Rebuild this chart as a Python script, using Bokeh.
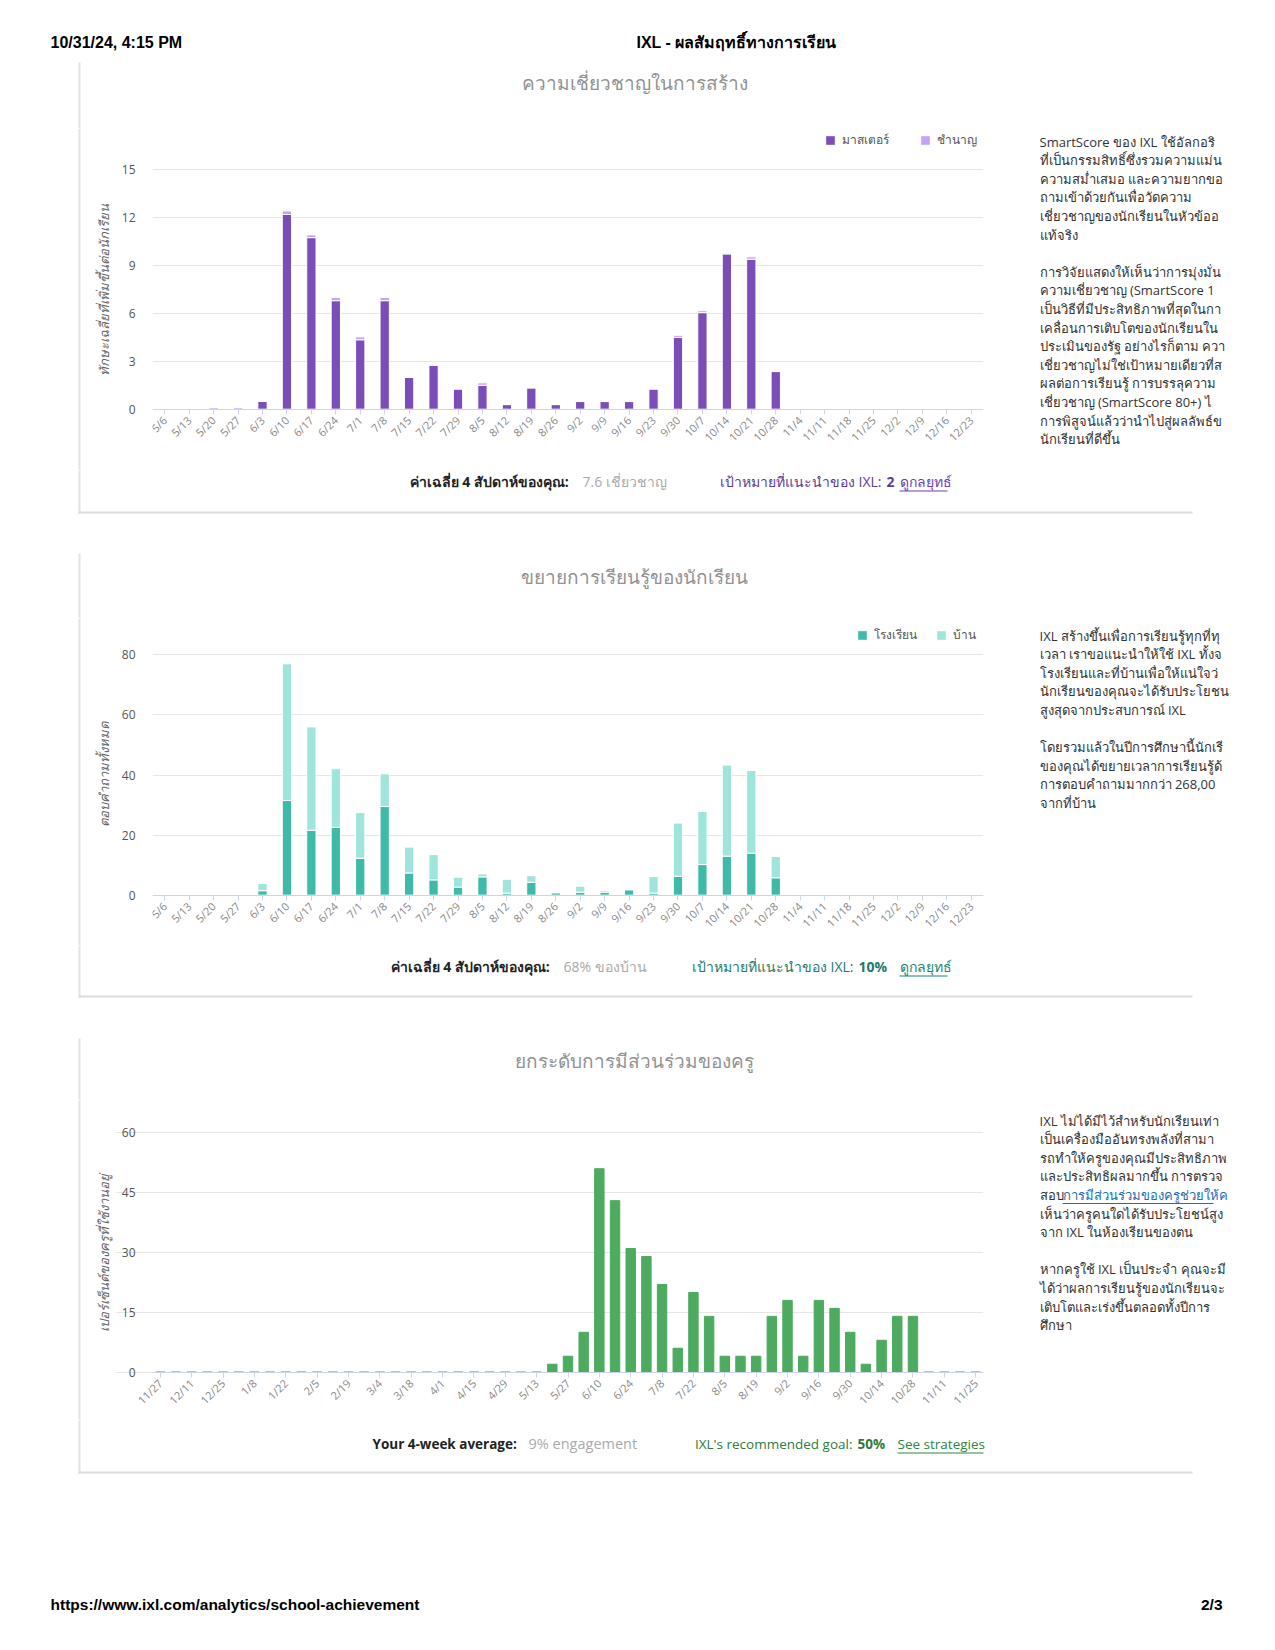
import math
from bokeh.plotting import figure
from bokeh.models import (ColumnDataSource, FactorRange, Range1d, FixedTicker, Label,
                          Legend, LegendItem)
from bokeh.layouts import column, row
from bokeh.embed import file_html
from bokeh.resources import INLINE

# ---------------- data ----------------
weeks = ["5/6", "5/13", "5/20", "5/27", "6/3", "6/10", "6/17", "6/24", "7/1", "7/8",
         "7/15", "7/22", "7/29", "8/5", "8/12", "8/19", "8/26", "9/2", "9/9", "9/16",
         "9/23", "9/30", "10/7", "10/14", "10/21", "10/28", "11/4", "11/11", "11/18",
         "11/25", "12/2", "12/9", "12/16", "12/23"]
mastered = [0, 0, 0, 0, 0.5, 12.2, 10.75, 6.8, 4.35, 6.8,
            2.0, 2.75, 1.27, 1.5, 0.29, 1.34, 0.29, 0.48, 0.48, 0.48,
            1.27, 4.5, 6.05, 9.73, 9.4, 2.36, 0, 0, 0,
            0, 0, 0, 0, 0]
proficient = [0, 0, 0.1, 0.1, 0, 0.22, 0.17, 0.2, 0.18, 0.2,
              0, 0.05, 0, 0.15, 0, 0, 0, 0, 0, 0,
              0, 0.13, 0.12, 0.05, 0.15, 0, 0, 0, 0,
              0, 0, 0, 0, 0]
school = [0, 0, 0, 0, 1.5, 31.5, 21.6, 22.6, 12.3, 29.5,
          7.4, 5.1, 2.7, 6.1, 0.7, 4.3, 0.8, 1.0, 1.0, 1.8,
          0.7, 6.3, 10.2, 13.0, 14.0, 5.8, 0, 0, 0,
          0, 0, 0, 0, 0]
home = [0, 0, 0, 0, 2.4, 45.5, 34.4, 19.5, 15.2, 10.9,
        8.6, 8.4, 3.3, 1.0, 4.6, 2.2, 0.1, 2.0, 0.5, 0.1,
        5.5, 17.7, 17.7, 30.3, 27.5, 7.1, 0, 0, 0,
        0, 0, 0, 0, 0]
weeks3 = ["11/27", "12/4", "12/11", "12/18", "12/25", "1/1", "1/8", "1/15", "1/22", "1/29",
          "2/5", "2/12", "2/19", "2/26", "3/4", "3/11", "3/18", "3/25", "4/1", "4/8",
          "4/15", "4/22", "4/29", "5/6", "5/13", "5/20", "5/27", "6/3", "6/10", "6/17",
          "6/24", "7/1", "7/8", "7/15", "7/22", "7/29", "8/5", "8/12", "8/19", "8/26",
          "9/2", "9/9", "9/16", "9/23", "9/30", "10/7", "10/14", "10/21", "10/28", "11/4",
          "11/11", "11/18", "11/25"]
teachers = [0, 0, 0, 0, 0, 0, 0, 0, 0, 0,
            0, 0, 0, 0, 0, 0, 0, 0, 0, 0,
            0, 0, 0, 0, 0, 2, 4, 10, 51, 43,
            31, 29, 22, 6, 20, 14, 4, 4, 4, 14,
            18, 4, 18, 16, 10, 2, 8, 14, 14, 0,
            0, 0, 0]

y1_ticks = [0, 3, 6, 9, 12, 15]
y2_ticks = [0, 20, 40, 60, 80]
y3_ticks = [0, 15, 30, 45, 60]

side1 = ["SmartScore ของ IXL ใช้อัลกอริ",
         "ที่เป็นกรรมสิทธิ์ซึ่งรวมความแม่น",
         "ความสม่ำเสมอ และความยากขอ",
         "ถามเข้าด้วยกันเพื่อวัดความ",
         "เชี่ยวชาญของนักเรียนในหัวข้ออ",
         "แท้จริง",
         "",
         "การวิจัยแสดงให้เห็นว่าการมุ่งมั่น",
         "ความเชี่ยวชาญ (SmartScore 1",
         "เป็นวิธีที่มีประสิทธิภาพที่สุดในกา",
         "เคลื่อนการเติบโตของนักเรียนใน",
         "ประเมินของรัฐ อย่างไรก็ตาม ควา",
         "เชี่ยวชาญไม่ใช่เป้าหมายเดียวที่ส",
         "ผลต่อการเรียนรู้ การบรรลุความ",
         "เชี่ยวชาญ (SmartScore 80+) ไ",
         "การพิสูจน์แล้วว่านำไปสู่ผลลัพธ์ข",
         "นักเรียนที่ดีขึ้น"]
side2 = ["IXL สร้างขึ้นเพื่อการเรียนรู้ทุกที่ทุ",
         "เวลา เราขอแนะนำให้ใช้ IXL ทั้งจ",
         "โรงเรียนและที่บ้านเพื่อให้แน่ใจว่",
         "นักเรียนของคุณจะได้รับประโยชน",
         "สูงสุดจากประสบการณ์ IXL",
         "",
         "โดยรวมแล้วในปีการศึกษานี้นักเรี",
         "ของคุณได้ขยายเวลาการเรียนรู้ด้",
         "การตอบคำถามมากกว่า 268,00",
         "จากที่บ้าน"]
side3 = ["IXL ไม่ได้มีไว้สำหรับนักเรียนเท่า",
         "เป็นเครื่องมืออันทรงพลังที่สามา",
         "รถทำให้ครูของคุณมีประสิทธิภาพ",
         "และประสิทธิผลมากขึ้น การตรวจ",
         "สอบ",
         "เห็นว่าครูคนใดได้รับประโยชน์สูง",
         "จาก IXL ในห้องเรียนของตน",
         "",
         "หากครูใช้ IXL เป็นประจำ คุณจะมี",
         "ได้ว่าผลการเรียนรู้ของนักเรียนจะ",
         "เติบโตและเร่งขึ้นตลอดทั้งปีการ",
         "ศึกษา"]
side3_link = "การมีส่วนร่วมของครูช่วยให้ค"

# ---------------- styles ----------------
FONT = "Open Sans"
HFONT = "Liberation Sans"
C_M, C_P = "#7b4db6", "#c5a3f3"
C_S, C_H = "#3dbaa8", "#a0e5dc"
C_G = "#4cab5f"
BORDER = "#e2e2e2"
TITLE_C = "#929292"

PX0, PX1 = 0, 1267          # page x extent of the layout
CX0, CX1 = 115, 990         # chart figure x extent
FRAME_L, FRAME_R = 152, 983  # chart plotting-area x extent


def text_fig(x0, x1, y0, y1):
    p = figure(width=int(x1 - x0), height=int(y1 - y0),
               x_range=Range1d(x0, x1), y_range=Range1d(y1, y0),
               output_backend="svg", toolbar_location=None,
               x_axis_location=None, y_axis_location=None,
               min_border=0, min_border_left=0, min_border_right=0,
               min_border_top=0, min_border_bottom=0)
    p.outline_line_color = None
    p.background_fill_color = "white"
    p.border_fill_color = "white"
    p.grid.visible = False
    return p


def tl(p, x, y, text, size="13px", color="#333333", style="normal",
       align="left", baseline="middle", angle=0, font=FONT):
    p.add_layout(Label(x=x, y=y, text=text, text_font=font, text_font_size=size,
                       text_color=color, text_font_style=style, text_align=align,
                       text_baseline=baseline, angle=angle))


def rect(p, x0, x1, y0, y1, color):
    p.quad(left=[x0], right=[x1], top=[y0], bottom=[y1], fill_color=color, line_color=None)


def style_chart(p, yticks):
    p.outline_line_color = None
    p.background_fill_color = "white"
    p.border_fill_color = "white"
    p.xgrid.grid_line_color = None
    p.ygrid.grid_line_color = "#e6e6e6"
    p.ygrid.ticker = FixedTicker(ticks=yticks)
    p.yaxis.ticker = FixedTicker(ticks=yticks)
    p.yaxis.axis_line_color = None
    p.yaxis.major_tick_line_color = None
    p.yaxis.minor_tick_line_color = None
    p.yaxis.major_tick_out = 0
    p.yaxis.major_tick_in = 0
    p.yaxis.major_label_standoff = 17
    p.yaxis.major_label_text_font = FONT
    p.yaxis.major_label_text_font_size = "12px"
    p.yaxis.major_label_text_color = "#555555"
    p.xaxis.fixed_location = 0
    p.xaxis.axis_line_color = "#ccd6eb"
    p.xaxis.major_tick_line_color = "#ccd6eb"
    p.xaxis.minor_tick_line_color = None
    p.xaxis.major_tick_out = 5
    p.xaxis.major_tick_in = 0
    p.xaxis.major_label_orientation = math.pi / 4
    p.xaxis.major_label_standoff = 4
    p.xaxis.major_label_text_font = FONT
    p.xaxis.major_label_text_font_size = "11px"
    p.xaxis.major_label_text_color = "#888888"


def chart_fig(y0, y1, zero_y, x_range, unit_px, yticks, left_border=FRAME_L - CX0):
    # plotting area covers the whole figure height; the x axis sits at value 0
    p = figure(width=CX1 - CX0, height=int(y1 - y0), x_range=x_range,
               y_range=Range1d(-(y1 - zero_y) / unit_px, (zero_y - y0) / unit_px),
               output_backend="svg", toolbar_location=None,
               min_border_left=left_border, min_border_right=CX1 - FRAME_R,
               min_border_top=0, min_border_bottom=0)
    style_chart(p, yticks)
    return p


def make_legend(labels, renderers, vx, vy, spacing):
    return Legend(items=[LegendItem(label=l, renderers=[r]) for l, r in zip(labels, renderers)],
                  location=(vx, vy), orientation="horizontal",
                  glyph_width=12, glyph_height=12, label_height=12, label_standoff=6,
                  spacing=spacing, padding=0, margin=0, border_line_color=None,
                  background_fill_alpha=0, label_text_font=FONT,
                  label_text_font_size="12px", label_text_color="#555555",
                  label_text_baseline="middle")


def left_fig(y0, y1, ytitle, yc, card_top, card_bot):
    p = text_fig(PX0, CX0, y0, y1)
    rect(p, 78, 80, max(card_top, y0), min(card_bot, y1), BORDER)
    tl(p, 103, yc, ytitle, size="13px", color="#666666", style="italic",
       align="center", angle=math.pi / 2)
    return p


def side_fig(y0, y1, lines, first, step=18.6):
    p = text_fig(CX1, PX1, y0, y1)
    for i, t in enumerate(lines):
        if t:
            tl(p, 1039, first + i * step, t, size="13px", color="#333333")
    return p


def card_bottom(p, yb):
    rect(p, 78, 1192, yb - 2, yb, "#dcdcdc")


def summary(p, y, lab_x, lab_t, val_x, val_t, goal_t, goal_v, goal_vx, goal_c,
            link_t, link_x, link_end, link_c, size="14px", val_size="14px"):
    tl(p, lab_x, y, lab_t, color="#222222", style="bold", size=size)
    tl(p, val_x, y, val_t, color="#aaaaaa", size=val_size)
    tl(p, goal_vx - 5, y, goal_t, color=goal_c, size=size, align="right")
    tl(p, goal_vx, y, goal_v, color=goal_c, size=size, style="bold")
    tl(p, link_x, y, link_t, color=link_c, size=size)
    rect(p, link_x, link_end, y + 9, y + 10, link_c)


# ================= top strip =================
T1 = text_fig(PX0, PX1, 0, 128)
tl(T1, 50, 42, "10/31/24, 4:15 PM", size="16px", color="#000000", style="bold", font=HFONT)
tl(T1, 636, 42, "IXL - ผลสัมฤทธิ์ทางการเรียน", size="16px", color="#000000", style="bold", font=HFONT)
rect(T1, 78, 80, 62, 128, BORDER)
tl(T1, 634, 82, "ความเชี่ยวชาญในการสร้าง", size="19px", color=TITLE_C, align="center")

# ================= chart 1 row =================
Z1 = 408.7
C1 = chart_fig(128, 470, Z1, FactorRange(*weeks), 239.4 / 15, y1_ticks)
src1 = ColumnDataSource(dict(week=weeks, mastered=mastered, proficient=proficient))
r1 = C1.vbar_stack(["mastered", "proficient"], x="week", width=0.38, source=src1,
                   color=[C_M, C_P], line_color="white", line_width=1)
C1.add_layout(make_legend(["มาสเตอร์", "ชำนาญ"], r1, 824 - FRAME_L, 470 - 149, 30))
L1 = left_fig(128, 470, "ทักษะเฉลี่ยที่เพิ่มขึ้นต่อนักเรียน", 289, 62, 513)
S1 = side_fig(128, 470, side1, 141)

# ================= strip between 1 and 2 =================
T2 = text_fig(PX0, PX1, 470, 618)
rect(T2, 78, 80, 470, 513, BORDER)
card_bottom(T2, 513)
summary(T2, 481, 409, "ค่าเฉลี่ย 4 สัปดาห์ของคุณ:", 582, "7.6 เชี่ยวชาญ",
        "เป้าหมายที่แนะนำของ IXL:", "2", 886, "#5e3a96",
        "ดูกลยุทธ์", 899, 947, "#6b3fb5")
rect(T2, 78, 80, 553, 618, BORDER)
tl(T2, 634, 576, "ขยายการเรียนรู้ของนักเรียน", size="19px", color=TITLE_C, align="center")

# ================= chart 2 row =================
Z2 = 894.7
C2 = chart_fig(618, 945, Z2, FactorRange(*weeks), 240.4 / 80, y2_ticks)
src2 = ColumnDataSource(dict(week=weeks, school=school, home=home))
r2 = C2.vbar_stack(["school", "home"], x="week", width=0.38, source=src2,
                   color=[C_S, C_H], line_color="white", line_width=1)
C2.add_layout(make_legend(["โรงเรียน", "บ้าน"], r2, 856 - FRAME_L, 945 - 644, 18))
L2 = left_fig(618, 945, "ตอบคำถามทั้งหมด", 774, 553, 997)
S2 = side_fig(618, 945, side2, 635)

# ================= strip between 2 and 3 =================
T3 = text_fig(PX0, PX1, 945, 1100)
rect(T3, 78, 80, 945, 997, BORDER)
card_bottom(T3, 997)
summary(T3, 966, 390, "ค่าเฉลี่ย 4 สัปดาห์ของคุณ:", 563, "68% ของบ้าน",
        "เป้าหมายที่แนะนำของ IXL:", "10%", 858, "#1d7a6d",
        "ดูกลยุทธ์", 899, 947, "#17877a")
rect(T3, 78, 80, 1038, 1100, BORDER)
tl(T3, 634, 1060, "ยกระดับการมีส่วนร่วมของครู", size="19px", color=TITLE_C, align="center")

# ================= chart 3 row =================
Z3 = 1371.7
idx3 = list(range(len(weeks3)))
n3 = len(weeks3)
ext3 = (FRAME_L - CX0) / ((FRAME_R - FRAME_L) / n3)   # room left of first week for its label
C3 = chart_fig(1100, 1420, Z3, Range1d(-0.5 - ext3, n3 - 0.5), 239.4 / 60, y3_ticks,
               left_border=0)
C3.yaxis.fixed_location = -0.5
C3.ygrid.bounds = (-0.5, n3 - 0.5)
src3 = ColumnDataSource(dict(i=idx3, week=weeks3, teachers=teachers))
C3.vbar(x="i", top="teachers", width=0.6, source=src3, color=C_G)
C3.xaxis.ticker = FixedTicker(ticks=idx3[::2])
C3.xaxis.major_label_overrides = {i: weeks3[i] for i in idx3[::2]}
C3.xaxis.bounds = (-0.5, n3 - 0.5)
L3 = left_fig(1100, 1420, "เปอร์เซ็นต์ของครูที่ใช้งานอยู่", 1252, 1038, 1473)
S3 = side_fig(1100, 1420, side3, 1120)
tl(S3, 1062, 1120 + 4 * 18.6, side3_link, size="13px", color="#1a6fb5")
rect(S3, 1062, 1213, 1120 + 4 * 18.6 + 8, 1120 + 4 * 18.6 + 9, "#1a6fb5")

# ================= bottom strip =================
T4 = text_fig(PX0, PX1, 1420, 1642)
rect(T4, 78, 80, 1420, 1473, BORDER)
card_bottom(T4, 1473)
summary(T4, 1443, 372, "Your 4-week average:", 528, "9% engagement",
        "IXL's recommended goal:", "50%", 857, "#2f7a40",
        "See strategies", 897, 983, "#2e8540", size="13.5px", val_size="14.5px")
tl(T4, 50, 1604, "https://www.ixl.com/analytics/school-achievement", size="15.5px",
   color="#000000", style="bold", font=HFONT)
tl(T4, 1222, 1604, "2/3", size="15.5px", color="#000000", style="bold", align="right", font=HFONT)

layout = column(T1, row(L1, C1, S1), T2, row(L2, C2, S2), T3, row(L3, C3, S3), T4, spacing=0)
open("out.html", "w").write(file_html(layout, INLINE))
